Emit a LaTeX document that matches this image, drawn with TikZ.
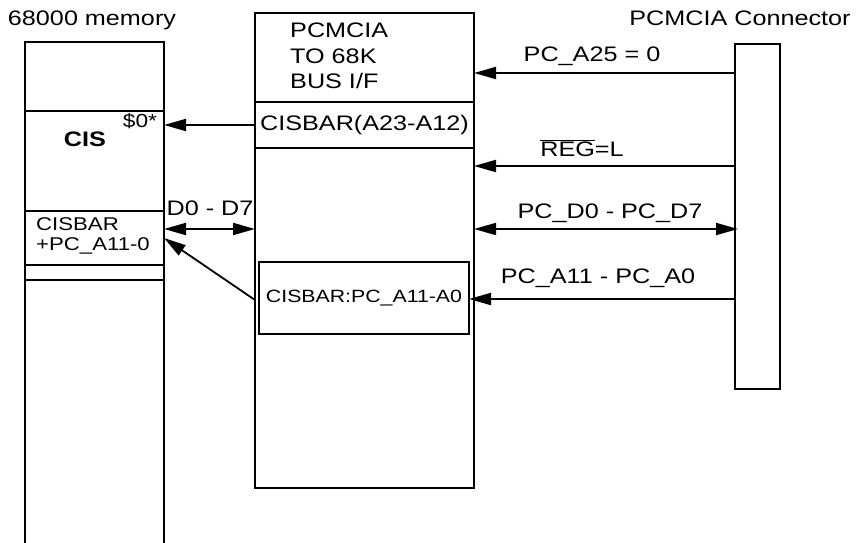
\documentclass[tikz,border=0pt]{standalone}
\usepackage{fontspec}
\setmainfont{Liberation Sans}
\usepackage{graphicx}
\usepackage{tikz}
\usetikzlibrary{positioning,arrows.meta}

% wide lettering as in the scan; optional argument shrinks it
\newcommand{\wtxt}[2][1]{\scalebox{#1}{\scalebox{1.2}[1]{#2}}}

\begin{document}
\begin{tikzpicture}[x=1pt, y=-1pt, every node/.style={font=\fontsize{21}{25.5}\selectfont},
  blk/.style={draw, rectangle, line width=1.3pt, inner sep=0pt, outer sep=0pt},
  sig/.style={line width=1.8pt, -{Triangle[length=22pt,width=12pt]}},
  bus/.style={line width=1.8pt, {Triangle[length=22pt,width=12pt]}-{Triangle[length=22pt,width=12pt]}}]

\useasboundingbox (0,0) rectangle (859,543);

% 68000 memory (column stacked downwards)
\node (memtop) [blk, anchor=north west, minimum width=139pt, minimum height=69pt] at (25,42) {};
\node (cis) [blk, below=0pt of memtop, minimum width=139pt, minimum height=100pt] {};
\node (memcis) [blk, below=0pt of cis, minimum width=139pt, minimum height=54pt] {};
\node (memgap) [blk, below=0pt of memcis, minimum width=139pt, minimum height=15pt] {};
\draw[line width=1.3pt] (memgap.south west) -- ++(0,270);
\draw[line width=1.3pt] (memgap.south east) -- ++(0,270);

\node (memtitle) at (92,20) {\wtxt{68000 memory}};
\node (cislbl) [font=\fontsize{21}{25.5}\selectfont\bfseries] at (85,139) {\wtxt{CIS}};
\node (cisaddr) at (140,121) {\wtxt[0.9]{\$0*}};
\node (memcislbl) [anchor=north west, inner sep=0pt, font=\fontsize{21}{22}\selectfont] at (36,217)
  {\wtxt[0.88]{\begin{tabular}{@{}l@{}}CISBAR\\+PC\_A11-0\end{tabular}}};

% PCMCIA to 68K bus interface
\node (bridge) [blk, anchor=north west, minimum width=219pt, minimum height=89pt] at (255,13) {};
\node (cisbar) [blk, below=0pt of bridge, minimum width=219pt, minimum height=46pt] {\wtxt{CISBAR(A23-A12)}};
\node (body) [blk, below=0pt of cisbar, minimum width=219pt, minimum height=340pt] {};
\node (addr) [blk, line width=2.6pt, anchor=north west, minimum width=210pt, minimum height=72pt] at (259,262) {\wtxt[0.845]{CISBAR:PC\_A11-A0}};
\node (bridgelbl) [anchor=west, inner sep=0pt] at (290,58)
  {\wtxt{\begin{tabular}{@{}l@{}}PCMCIA\\TO 68K\\BUS I/F\end{tabular}}};

% PCMCIA connector
\node (conn) [blk, anchor=north west, minimum width=45pt, minimum height=345pt] at (735,44) {};
\node (conntitle) at (740,18) {\wtxt{PCMCIA Connector}};

% signal levels
\coordinate (ya25) at (0,73);
\coordinate (yreg) at (0,166);
\coordinate (ydata) at (0,229);
\coordinate (yaddr) at (0,299);
\coordinate (ycis) at (0,125);

% Arrows
\draw[sig] (conn.west |- ya25) -- (bridge.east |- ya25);
\draw[sig] (conn.west |- yreg) -- (body.east |- yreg);
\draw[bus] (body.east |- ydata) -- ([xshift=3pt]conn.west |- ydata);
\draw[sig] (conn.west |- yaddr) -- (addr.east |- yaddr);
\draw[sig] (cisbar.west |- ycis) -- (cis.east |- ycis);
\draw[bus] (memcis.east |- ydata) -- (body.west |- ydata);
\draw[sig] (body.west |- 0,300) -- (memcis.east);

\node (a25lbl) at (592,56) {\wtxt{PC\_A25 = 0}};
\node (reglbl) at (582,148) {\wtxt{$\overline{\mbox{REG}}$=L}};
\node (datalbl) at (610,213) {\wtxt{PC\_D0 - PC\_D7}};
\node (addrlbl) at (598,278) {\wtxt{PC\_A11 - PC\_A0}};
\node (dlbl) at (210,208) {\wtxt{D0 - D7}};

\end{tikzpicture}
\end{document}
